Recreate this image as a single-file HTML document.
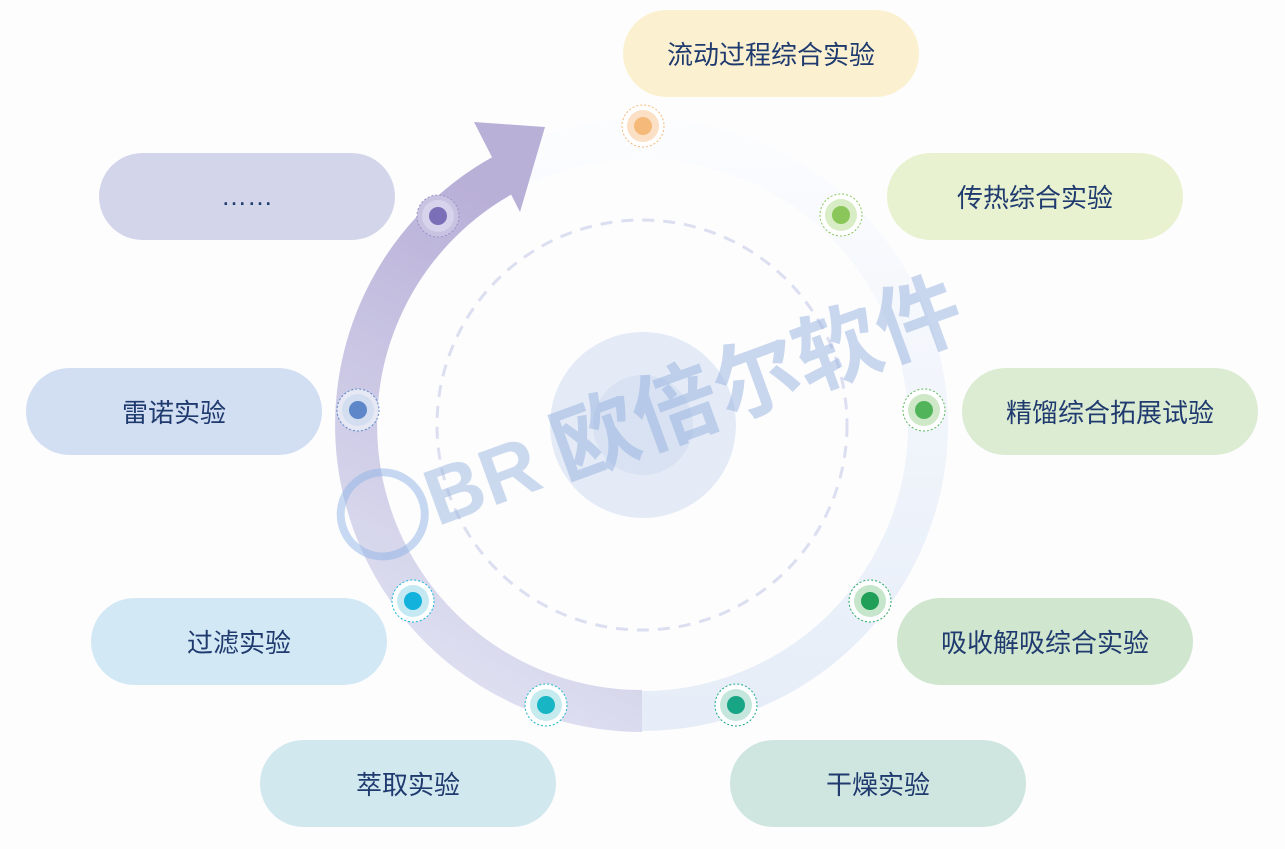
<!DOCTYPE html>
<html><head><meta charset="utf-8"><style>
body{margin:0;width:1285px;height:849px;background:#fdfdfe;position:relative;overflow:hidden;font-family:"Liberation Sans","Noto Sans CJK SC",sans-serif}
.p{position:absolute;width:296px;height:87px;border-radius:44px;display:flex;align-items:center;justify-content:center;font-size:26px;color:#1f3a6e}
svg{position:absolute;left:0;top:0}
</style></head><body>
<svg width="1285" height="849">
<defs>
<linearGradient id="g" x1="0" y1="1" x2="0.3" y2="0">
<stop offset="0" stop-color="#e4e8f5"/><stop offset="1" stop-color="#b9b0d8"/>
</linearGradient>
<linearGradient id="r" x1="0" y1="0" x2="0" y2="1">
<stop offset="0" stop-color="#fbfcfe"/><stop offset="1" stop-color="#e6edf8"/>
</linearGradient>
</defs>
<circle cx="642" cy="425" r="286" fill="none" stroke="url(#r)" stroke-width="40"/>
<path d="M642 711 A286 286 0 0 1 505 174" fill="none" stroke="url(#g)" stroke-width="42"/>
<polygon points="474,122 545,127 520,212" fill="#b9b0d8"/>
<circle cx="642" cy="425" r="205" fill="none" stroke="#dcdff0" stroke-width="3" stroke-dasharray="12 9"/>
<circle cx="643" cy="425" r="93" fill="#e4ebf7"/>
<circle cx="643" cy="425" r="50" fill="#d9e2f3"/>
<g>
<circle cx="643" cy="126" r="21" fill="#fff" stroke="#f5b97a" stroke-dasharray="2 2"/><circle cx="643" cy="126" r="16" fill="#fbe0c6"/><circle cx="643" cy="126" r="9" fill="#f5b97a"/>
<circle cx="841" cy="215" r="21" fill="#fff" stroke="#8bc65a" stroke-dasharray="2 2"/><circle cx="841" cy="215" r="16" fill="#d8ecc5"/><circle cx="841" cy="215" r="9" fill="#8bc65a"/>
<circle cx="924" cy="410" r="21" fill="#fff" stroke="#5cb85c" stroke-dasharray="2 2"/><circle cx="924" cy="410" r="16" fill="#cfe8c8"/><circle cx="924" cy="410" r="9" fill="#52b45a"/>
<circle cx="870" cy="601" r="21" fill="#fff" stroke="#27a860" stroke-dasharray="2 2"/><circle cx="870" cy="601" r="16" fill="#c6e6cc"/><circle cx="870" cy="601" r="9" fill="#1f9f58"/>
<circle cx="736" cy="705" r="21" fill="#fff" stroke="#1aa88a" stroke-dasharray="2 2"/><circle cx="736" cy="705" r="16" fill="#c4e6dc"/><circle cx="736" cy="705" r="9" fill="#17a585"/>
<circle cx="546" cy="705" r="21" fill="#fff" stroke="#1bb8c6" stroke-dasharray="2 2"/><circle cx="546" cy="705" r="16" fill="#c6ebef"/><circle cx="546" cy="705" r="9" fill="#18b6c4"/>
<circle cx="413" cy="601" r="21" fill="#fff" stroke="#14b4dc" stroke-dasharray="2 2"/><circle cx="413" cy="601" r="16" fill="#c5e9f3"/><circle cx="413" cy="601" r="9" fill="#12b2dc"/>
<circle cx="358" cy="410" r="21" fill="#e6e9f4" stroke="#5d87c9" stroke-dasharray="2 2"/><circle cx="358" cy="410" r="16" fill="#d3def0"/><circle cx="358" cy="410" r="9" fill="#5d87c9"/>
<circle cx="438" cy="216" r="21" fill="#c9c3e2" stroke="#9a90c8" stroke-dasharray="2 2"/><circle cx="438" cy="216" r="16" fill="#d7d3ec"/><circle cx="438" cy="216" r="9" fill="#7b6fb8"/>
</g>
<g transform="translate(-45 -68) rotate(-20 640 420)" opacity="0.5">
<circle cx="385" cy="500" r="42" fill="none" stroke="#8fb3e6" stroke-width="8"/>
<text x="432" y="530" font-size="80" font-weight="bold" fill="#9bb6e0" font-family="Liberation Sans, Noto Sans CJK SC, sans-serif">BR</text>
<text x="568" y="530" font-size="86" font-weight="bold" fill="#97b2e0" font-family="Noto Sans CJK SC, sans-serif">欧倍尔软件</text>
</g>
</svg>
<div class="p" style="left:623px;top:10px;background:#fbf1d0">流动过程综合实验</div>
<div class="p" style="left:887px;top:153px;background:#e8f2d0">传热综合实验</div>
<div class="p" style="left:962px;top:368px;background:#dcecd3">精馏综合拓展试验</div>
<div class="p" style="left:897px;top:598px;background:#d0e6cf">吸收解吸综合实验</div>
<div class="p" style="left:730px;top:740px;background:#cfe6e0">干燥实验</div>
<div class="p" style="left:260px;top:740px;background:#d2e8ef">萃取实验</div>
<div class="p" style="left:91px;top:598px;background:#d3e8f5">过滤实验</div>
<div class="p" style="left:26px;top:368px;background:#d2def2">雷诺实验</div>
<div class="p" style="left:99px;top:153px;background:#d3d5ea">……</div>
</body></html>
